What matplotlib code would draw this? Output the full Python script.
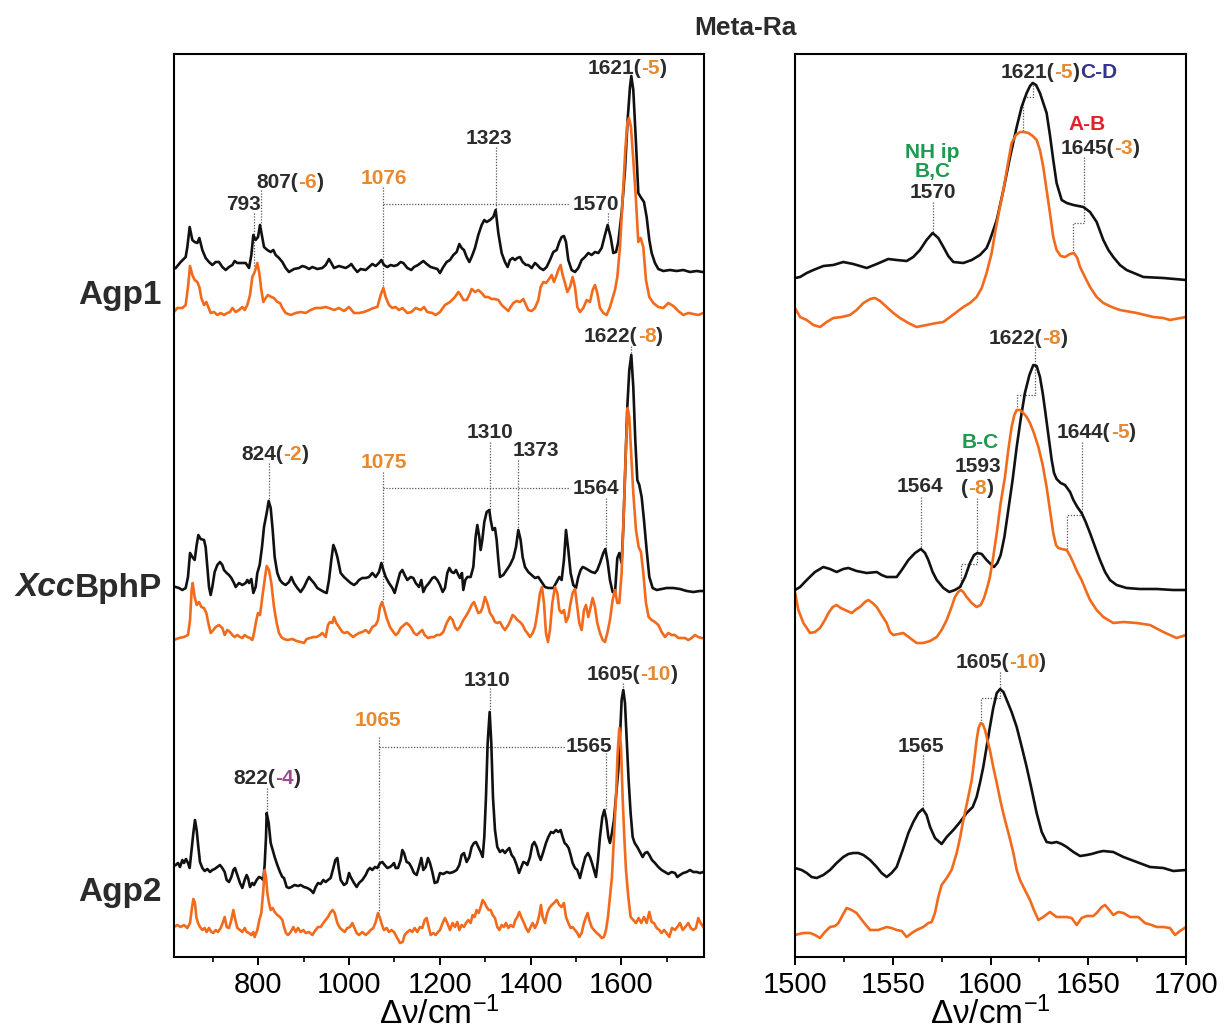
import matplotlib
matplotlib.use("Agg")
import matplotlib.pyplot as plt
from matplotlib.ticker import MultipleLocator
from matplotlib.transforms import offset_copy

plt.rcParams['font.family'] = ['Liberation Sans', 'DejaVu Sans']
plt.rcParams['mathtext.fontset'] = 'custom'
plt.rcParams['mathtext.rm'] = 'Liberation Sans'
plt.rcParams['mathtext.it'] = 'Liberation Sans:italic'

# ---------------- data (wavenumber / arbitrary offset intensity) ----------------
# Full-range panel: Agp1
agp1_h_wn = [618.4,629.4,640.4,644.1,649.2,655.1,660.2,666.1,670.5,677.1,684.4,691.8,699.1,706.5,713.8,721.1,728.5,735.8,743.2,748.3,
             754.2,761.5,772.5,779.9,785.0,789.4,794.5,799.7,804.1,809.2,812.9,820.2,827.6,833.4,838.6,845.9,853.3,860.6,867.9,879.0,
             890.0,897.3,904.6,912.0,919.3,930.3,941.3,948.7,956.0,961.1,967.0,978.0,985.4,992.7,1000.1,1005.2,1011.1,1018.4,1025.7,1036.8,
             1044.1,1051.4,1058.8,1066.1,1071.3,1077.1,1084.5,1091.8,1099.1,1106.5,1113.8,1119.7,1128.5,1137.3,1143.2,1152.0,1163.7,1171.1,1179.9,1187.2,
             1194.6,1200.4,1207.7,1215.1,1222.4,1229.8,1237.1,1243.0,1248.1,1253.2,1259.1,1265.0,1270.1,1277.5,1284.8,1292.2,1298.0,1303.2,1310.5,1317.8,
             1323.0,1328.9,1336.2,1343.5,1349.4,1354.5,1360.4,1365.6,1370.7,1376.6,1382.4,1389.8,1394.9,1402.3,1409.6,1414.7,1420.6,1428.0,1435.3,1442.6,
             1450.0,1457.3,1463.2,1468.3,1473.4,1477.9,1483.0,1490.3,1497.7,1505.0,1512.4,1519.7,1527.0,1534.4,1541.7,1549.1,1556.4,1563.7,1569.6,1576.2,
             1582.1,1588.0,1593.1,1600.4,1607.8,1613.6,1618.8,1621.7,1626.1,1632.0,1637.1,1642.3,1649.6,1655.5,1661.4,1666.5,1673.8,1681.2,1692.2,1706.9,
             1721.5,1736.2,1750.9,1765.6,1778.8]
agp1_h_int = [689,695,700,710,730,717,715,714,719,707,699,695,692,695,695,690,687,690,692,696,
              694,694,694,689,702,722,717,720,732,719,710,707,705,707,702,699,695,689,685,688,
              689,691,690,688,690,688,689,692,698,694,689,691,690,689,691,693,689,685,688,687,
              690,693,691,694,697,692,690,692,691,692,695,694,689,687,690,692,696,693,690,689,
              688,684,690,695,697,702,705,713,709,707,700,695,700,709,722,732,737,735,737,740,
              747,724,704,695,690,697,699,697,699,700,695,692,692,689,694,692,689,687,690,697,
              705,707,715,720,721,715,697,687,685,689,697,700,704,702,705,704,709,722,732,720,
              704,705,715,744,787,837,870,881,867,814,764,760,755,740,717,704,694,688,686,687,
              686,687,685,686,685]
agp1_d_wn = [614.7,622.0,633.1,640.4,645.5,650.0,655.1,660.2,666.1,670.5,674.9,680.8,685.9,690.3,695.4,702.8,710.1,717.5,724.8,732.1,
             738.0,743.2,750.5,757.8,765.2,770.3,776.2,782.1,787.2,792.3,798.2,802.6,807.0,811.4,816.6,821.7,829.0,834.9,842.2,848.1,
             853.3,860.6,871.6,882.6,893.6,904.6,915.6,926.7,937.7,948.7,956.0,967.0,978.0,989.0,1000.1,1011.1,1022.1,1033.1,1044.1,1053.6,
             1062.5,1069.8,1075.7,1080.8,1088.1,1095.5,1102.8,1110.2,1117.5,1128.5,1137.3,1146.9,1157.9,1165.2,1172.5,1183.6,1190.9,1200.4,1211.4,1222.4,
             1233.4,1240.8,1245.9,1251.8,1259.1,1265.0,1270.1,1277.5,1284.8,1292.2,1299.5,1306.8,1314.2,1321.5,1328.9,1336.2,1343.5,1350.9,1356.0,1361.9,
             1369.2,1376.6,1383.9,1389.8,1394.9,1402.3,1409.6,1417.0,1422.1,1428.0,1433.8,1439.0,1446.3,1451.4,1457.3,1461.0,1466.1,1470.5,1475.7,1480.8,
             1486.7,1492.5,1497.7,1502.8,1508.7,1516.0,1523.4,1530.7,1536.6,1541.7,1546.8,1552.7,1560.1,1567.4,1574.7,1580.6,1585.8,1590.9,1596.8,1602.6,
             1608.5,1612.9,1616.6,1621.0,1626.1,1632.0,1637.1,1642.3,1648.1,1654.0,1661.4,1670.2,1681.2,1692.2,1703.2,1714.2,1725.2,1736.2,1747.2,1758.2,
             1769.3,1780.3]
agp1_d_int = [645,649,649,652,670,691,682,677,675,670,659,652,655,650,644,645,642,644,642,644,
              645,649,645,647,650,647,652,662,680,685,694,684,667,655,659,662,660,659,655,654,
              649,644,642,644,645,644,647,649,649,650,649,647,649,646,650,644,644,645,647,649,
              650,662,669,660,652,649,650,647,649,644,645,649,647,650,645,644,642,645,652,655,
              660,665,662,657,657,662,668,665,667,664,660,660,658,658,657,652,649,646,650,654,
              656,655,658,652,647,646,649,657,670,675,674,677,682,675,682,687,692,682,674,665,
              670,680,670,650,645,649,657,655,667,672,664,649,644,642,650,659,667,680,710,757,
              807,834,839,830,797,757,715,719,710,677,660,654,650,649,654,651,646,642,644,643,
              642,644]

# Full-range panel: XccBphP
xcc_h_wn = [618.4,625.7,633.1,640.4,645.5,650.0,655.1,660.2,664.6,668.3,673.4,680.8,684.4,688.1,691.8,695.4,699.1,704.2,710.1,716.0,
            721.1,724.8,730.7,735.8,741.0,746.8,750.5,757.8,765.2,772.5,776.2,779.9,785.0,789.4,794.5,798.2,803.3,808.5,812.9,818.8,
            823.2,827.6,832.0,836.4,842.2,848.1,853.3,860.6,867.9,873.1,878.9,886.3,893.6,901.0,908.3,912.0,917.1,923.0,930.3,937.7,
            945.0,950.9,956.0,961.1,965.6,970.0,974.4,981.7,989.0,996.4,1003.7,1011.1,1016.9,1022.1,1029.4,1036.8,1044.1,1051.4,1058.8,1066.1,
            1071.3,1075.7,1080.8,1088.1,1095.5,1100.6,1106.5,1112.3,1117.5,1122.6,1128.5,1135.8,1141.7,1146.9,1154.2,1159.3,1163.7,1168.9,1176.2,1183.6,
            1188.7,1194.6,1200.4,1206.3,1211.4,1216.5,1221.0,1226.1,1231.2,1235.6,1240.8,1244.4,1248.8,1251.8,1256.2,1260.6,1267.9,1273.8,1278.9,1282.6,
            1287.0,1290.0,1293.6,1298.0,1303.2,1309.0,1312.0,1316.4,1321.5,1325.2,1328.9,1332.5,1339.9,1347.2,1354.5,1361.9,1367.8,1372.9,1378.0,1382.4,
            1387.6,1394.9,1402.3,1409.6,1416.9,1424.3,1431.6,1439.0,1450.0,1457.3,1463.2,1468.3,1473.4,1477.9,1483.0,1488.1,1494.0,1499.9,1505.0,1510.1,
            1514.6,1519.7,1527.0,1534.4,1541.7,1546.8,1552.7,1560.1,1564.5,1569.6,1574.7,1580.6,1585.8,1590.9,1595.3,1600.4,1604.1,1608.5,1612.9,1617.3,
            1621.7,1626.1,1630.5,1634.9,1639.3,1644.5,1649.6,1655.5,1661.4,1668.7,1677.5,1688.5,1699.5,1714.2,1728.9,1743.6,1758.2,1772.9,1780.3]
xcc_h_int = [370,369,367,369,380,404,400,397,412,422,418,417,410,390,370,362,370,385,392,395,
             392,387,384,382,379,374,370,374,372,374,377,374,378,364,370,384,392,410,430,444,
             456,449,427,400,384,377,374,372,375,380,374,369,365,370,377,380,377,374,369,367,
             365,364,377,397,412,407,400,384,380,377,374,372,374,377,379,379,380,384,380,385,
             394,387,380,374,369,364,374,384,387,382,377,380,379,374,370,377,365,370,374,379,
             380,377,372,365,369,384,389,385,384,387,382,379,384,367,377,380,380,390,420,432,
             420,407,417,435,445,447,437,427,429,417,397,380,382,387,392,399,410,427,417,400,
             390,385,382,379,380,375,370,369,369,375,380,377,397,427,407,384,372,369,380,387,
             390,389,387,385,384,387,394,404,408,395,377,365,364,399,404,394,430,490,550,587,
             602,570,517,477,472,460,437,407,380,369,367,368,369,369,368,366,365,366,366]
xcc_d_wn = [614.7,625.7,636.7,645.5,650.0,653.6,655.8,660.2,664.6,669.8,674.9,680.8,685.9,690.3,695.4,701.3,706.5,713.8,721.1,726.3,
            732.1,738.0,743.2,748.3,754.2,760.0,765.2,770.3,776.2,782.1,787.2,790.9,796.0,799.7,804.1,809.2,814.3,818.8,823.9,829.0,
            834.9,840.8,845.9,851.0,856.9,864.3,875.3,884.8,893.6,901.0,906.8,914.2,921.5,928.9,936.2,941.3,948.7,953.8,958.2,963.4,
            967.0,972.2,978.0,985.4,990.5,996.4,1003.7,1009.6,1014.7,1022.1,1029.4,1036.8,1044.1,1051.4,1058.8,1063.9,1068.3,1072.7,1077.1,1083.0,
            1090.3,1097.7,1102.8,1108.0,1113.8,1121.2,1127.0,1132.2,1137.3,1143.2,1149.1,1156.4,1161.5,1166.7,1174.0,1181.3,1187.2,1193.1,1200.4,1207.7,
            1215.1,1222.4,1228.3,1233.4,1238.6,1244.4,1251.8,1259.1,1265.0,1270.1,1275.3,1279.7,1284.8,1290.0,1294.4,1299.5,1304.6,1310.5,1316.4,1321.5,
            1326.6,1332.5,1338.4,1343.5,1350.9,1356.0,1360.4,1365.6,1370.7,1376.6,1382.4,1387.6,1392.7,1398.6,1404.5,1409.6,1414.7,1420.6,1425.0,1429.4,
            1433.8,1438.2,1442.6,1447.8,1453.6,1458.8,1463.2,1468.3,1473.4,1477.9,1483.0,1488.1,1492.5,1497.7,1502.8,1507.2,1512.4,1517.5,1521.9,1527.0,
            1532.2,1536.6,1541.7,1546.8,1552.7,1558.6,1563.7,1568.9,1574.7,1580.6,1585.8,1590.9,1595.3,1600.4,1605.6,1610.0,1613.6,1617.3,1621.0,1626.1,
            1632.0,1637.9,1643.0,1648.1,1654.0,1659.9,1666.5,1673.8,1681.2,1688.5,1695.9,1703.2,1710.5,1717.9,1725.2,1732.6,1739.9,1747.2,1754.6,1761.9,
            1769.2,1776.6,1780.0]
xcc_d_int = [317,319,320,322,337,367,374,360,352,355,350,349,344,334,324,327,330,332,329,322,
             327,325,322,320,322,320,319,322,320,319,317,324,337,344,342,360,377,391,387,374,
             350,334,324,320,318,317,318,316,315,314,318,319,320,320,322,324,320,332,335,334,
             340,334,330,325,324,325,322,320,322,324,325,327,324,330,332,337,350,355,349,339,
             330,325,322,324,329,332,334,332,329,324,322,325,327,322,319,320,320,322,322,325,
             334,340,337,330,327,330,337,342,347,352,355,350,344,345,350,360,354,344,340,
             335,334,335,330,327,332,337,342,340,337,335,332,327,324,320,324,330,344,364,370,
             354,324,315,327,354,370,364,347,344,347,335,340,354,364,368,350,334,327,347,352,
             340,350,359,350,334,324,317,315,324,337,357,367,354,354,384,450,510,549,540,507,
             464,427,410,405,384,354,340,337,335,332,325,320,324,322,322,319,319,319,317,319,
             322,320,319]

# Full-range panel: Agp2
agp2_h_wn = [618.4,623.5,627.9,633.1,636.7,641.1,645.5,649.2,652.9,657.3,660.9,664.6,668.3,671.9,677.1,682.2,688.1,694.0,699.1,704.2,
             710.1,716.0,721.1,726.3,730.7,735.8,741.0,745.4,749.0,754.2,760.0,765.2,770.3,774.7,777.7,782.1,787.2,790.9,796.7,801.9,
             807.0,811.4,814.3,817.3,818.8,823.2,827.6,832.0,836.4,842.2,848.1,853.3,856.9,862.8,867.9,873.1,880.4,887.7,893.6,901.0,
             908.3,915.6,921.5,926.7,931.8,937.7,943.5,948.7,953.8,959.7,965.6,970.0,974.4,978.0,981.7,989.0,994.9,1000.1,1003.7,1011.1,
             1016.9,1022.1,1029.4,1036.8,1041.9,1046.3,1051.4,1057.3,1062.5,1068.3,1073.5,1078.6,1084.5,1090.3,1095.5,1099.1,1102.8,1108.0,1113.8,1117.5,
             1121.2,1127.0,1132.2,1137.3,1143.2,1149.1,1154.2,1159.3,1163.7,1168.9,1174.0,1178.4,1183.6,1188.7,1194.6,1200.4,
             1207.7,1215.1,1222.4,1229.8,1237.1,1243.0,1248.1,1253.2,1259.1,1265.0,1270.1,1275.3,1279.7,1284.8,1290.0,1294.4,1298.0,1301.7,1305.4,1309.8,
             1313.4,1317.1,1321.5,1326.6,1332.5,1338.4,1343.5,1348.7,1353.1,1358.2,1363.3,1369.2,1374.4,1378.8,1383.9,1389.0,1392.7,1398.6,1403.7,1408.1,
             1413.3,1417.7,1422.1,1427.9,1433.8,1439.0,1444.8,1450.0,1455.8,1461.0,1466.1,1470.5,1474.9,1479.3,1483.7,1488.1,1492.5,1497.7,1502.8,1508.7,
             1514.6,1520.4,1526.3,1530.7,1535.1,1539.5,1543.9,1548.3,1552.7,1557.9,1562.3,1566.7,1571.1,1574.7,1579.1,1583.5,1588.0,1593.1,1597.5,1600.4,
             1604.1,1607.8,1611.4,1615.8,1620.2,1624.7,1629.1,1634.9,1640.8,1646.7,1651.8,1656.9,1661.4,1667.2,1673.8,1681.2,1688.5,1695.9,1703.2,1710.5,
             1717.9,1723.0,1728.9,1736.2,1743.6,1750.9,1758.2,1765.6,1772.9,1780.3]
agp2_h_int = [92,94,90,97,94,98,94,89,105,124,137,127,110,95,89,86,88,85,87,88,
              90,92,89,85,77,75,80,87,89,82,74,69,77,82,79,70,74,72,77,80,
              79,77,92,120,144,134,114,107,100,92,85,80,79,70,69,70,72,71,72,70,
              69,67,64,70,74,73,77,75,77,79,89,97,99,87,77,72,74,84,80,74,
              70,74,77,82,87,89,87,90,89,94,95,92,89,90,92,94,89,89,97,107,
              104,95,94,90,84,82,90,99,87,90,99,94,85,74,75,84,
              83,85,84,85,87,92,102,104,95,100,110,114,115,110,105,100,120,160,214,245,
              214,160,127,110,105,107,104,107,109,102,99,92,84,89,95,94,92,100,112,115,
              110,102,97,105,114,120,125,124,127,125,127,120,114,112,109,102,94,89,87,79,
              90,100,104,100,94,87,80,97,120,140,147,137,120,114,124,137,160,187,227,257,
              267,254,220,177,144,120,114,110,105,100,104,105,102,97,94,90,87,85,83,85,
              84,80,82,84,85,87,85,85,84,85]
agp2_d_wn = [614.7,622.0,629.4,636.7,644.1,650.0,653.6,657.3,660.9,663.9,667.5,672.0,677.1,682.2,686.6,691.8,696.9,701.3,706.5,711.6,
             717.5,721.9,726.3,730.7,735.8,741.0,745.4,749.8,754.2,760.0,765.2,770.3,774.7,779.9,785.0,789.4,792.3,798.2,802.6,807.0,
             811.4,814.3,817.3,820.2,823.9,827.6,832.0,836.4,842.2,848.1,853.3,856.9,861.3,865.7,871.6,877.5,882.6,887.7,893.6,899.5,
             904.6,912.0,919.3,926.7,931.8,937.7,943.5,948.7,953.8,959.7,964.1,968.5,974.4,980.2,985.4,990.5,996.4,1002.3,1007.4,1011.1,
             1016.9,1022.1,1029.4,1036.8,1041.9,1047.8,1053.6,1058.8,1063.9,1068.3,1072.7,1077.1,1083.0,1088.1,1093.3,1099.1,1105.0,1112.3,1118.2,1122.6,
             1128.5,1134.4,1139.5,1144.6,1150.5,1156.4,1161.5,1166.7,1171.1,1175.5,1179.9,1185.8,1190.9,1196.0,1200.4,
             1206.3,1211.4,1216.5,1222.4,1228.3,1233.4,1238.6,1243.0,1248.1,1253.2,1257.7,1262.8,1267.9,1272.3,1276.7,1281.1,1285.5,1290.0,1294.4,1298.8,
             1303.2,1307.6,1312.0,1316.4,1321.5,1326.6,1331.1,1336.2,1341.3,1345.7,1350.9,1356.0,1361.9,1366.3,1370.7,1375.1,1380.2,1385.4,1389.8,1394.9,
             1400.0,1404.5,1409.6,1414.7,1419.1,1422.8,1426.5,1431.6,1436.7,1441.2,1446.3,1451.4,1457.3,1463.2,1468.3,1473.4,1477.9,1483.0,1488.1,1492.5,
             1497.7,1502.8,1507.2,1512.4,1517.5,1521.9,1525.6,1529.2,1534.4,1539.5,1545.4,1551.3,1556.4,1561.5,1566.0,1570.3,1574.7,1579.1,1583.5,1588.0,
             1591.6,1595.3,1599.0,1602.6,1606.3,1610.0,1615.1,1620.2,1626.1,1632.0,1637.9,1643.7,1649.6,1655.5,1661.4,1666.5,1671.6,1677.5,1683.4,1688.5,
             1693.6,1699.5,1705.4,1711.3,1717.9,1723.0,1728.9,1734.8,1740.6,1747.2,1752.4,1758.2,1764.1,1769.2,1774.3,1780.3]
agp2_d_int = [30,32,30,32,29,34,47,58,54,40,34,30,27,29,25,29,25,24,27,25,
              29,34,40,30,29,37,47,37,29,27,25,29,25,24,22,25,20,27,37,44,
              67,87,80,64,54,47,49,45,42,40,37,30,24,22,25,30,25,29,25,27,
              24,25,22,27,30,30,34,37,40,45,47,44,34,29,27,25,29,30,34,30,
              24,22,25,22,24,27,29,35,44,39,32,27,29,25,27,25,20,14,15,22,
              25,27,25,29,25,30,29,37,39,30,22,24,22,25,27,
              34,39,34,27,34,30,35,27,32,30,34,37,34,42,40,47,44,50,57,54,
              50,47,47,42,39,30,27,32,30,34,29,32,30,37,40,45,39,34,29,25,
              30,34,29,34,42,52,40,34,44,49,52,54,57,52,50,54,40,34,29,30,
              27,24,20,24,34,40,44,37,30,27,24,22,19,20,27,40,60,80,120,160,
              204,229,210,160,120,87,60,40,37,34,39,34,40,34,45,35,34,29,27,24,
              27,24,20,29,27,30,34,27,30,34,29,27,29,39,34,30]

# Zoomed panel (1500-1700)
agp1_h_zwn = [1500,1502.6,1506.0,1509.4,1514.5,1519.6,1524.7,1529.8,1536.7,1541.8,1547.7,1552.0,1557.1,1560.5,1563.9,
              1567.3,1570.4,1573.3,1575.9,1578.4,1581.0,1586.1,1590.4,1594.6,1598.0,1599.7,1603.2,1606.6,1610.0,1613.4,
              1615.9,1618.5,1620.2,1621.6,1623.3,1625.3,1627.0,1628.7,1630.4,1632.1,1633.8,1636.4,1639.0,1642.4,1647.5,
              1650.9,1654.3,1657.7,1660.3,1662.8,1666.2,1669.6,1678.2,1688.4,1700]
agp1_h_zint = [679,680,684,687,691,692,695,693,689,693,698,697,696,700,707,
               717,724,719,710,701,695,694,697,702,709,717,737,767,800,830,
               850,864,871,874,872,864,854,844,822,797,774,757,754,752,750,
               745,735,717,707,700,692,687,680,679,677]
agp1_d_zwn = [1500,1502.6,1506.0,1509.4,1512.8,1516.2,1519.6,1523.9,1528.1,1531.5,1535.0,1538.4,1540.9,1543.5,1546.9,
              1550.3,1553.7,1558.0,1562.2,1567.3,1572.5,1575.9,1579.3,1582.7,1586.1,1589.5,1592.9,1595.5,1598.0,1600.6,
              1602.3,1604.5,1606.6,1608.6,1610.8,1613.0,1615.1,1617.1,1619.4,1621.6,1623.6,1625.3,1627.0,1628.7,1630.4,
              1632.1,1633.8,1635.9,1638.1,1640.7,1642.7,1644.4,1645.8,1648.3,1650.9,1654.3,1657.7,1662.0,1666.2,1674.8,
              1683.3,1688.4,1691.8,1700]
agp1_d_zint = [649,640,637,632,630,635,639,640,642,647,654,658,659,656,650,
               644,639,634,630,632,634,635,640,645,650,654,660,669,684,704,
               724,747,767,790,814,822,825,825,824,821,817,807,790,767,744,
               720,707,701,700,703,704,699,690,680,670,660,654,650,647,644,
               640,639,637,640]
xcc_h_zwn = [1500,1502.6,1506.0,1510.2,1514.5,1517.9,1521.3,1524.7,1527.3,1531.5,1536.7,1541.8,1544.3,1546.9,1552.0,
             1554.6,1558.0,1561.4,1564.4,1566.5,1568.2,1570.4,1572.5,1575.9,1578.9,1581.8,1584.4,1587.0,1589.5,1591.6,
             1593.3,1595.5,1598.0,1600.6,1601.8,1603.5,1605.2,1607.1,1609.1,1611.3,1613.4,1615.6,1617.6,1619.9,1621.9,
             1623.6,1625.3,1626.7,1627.9,1629.6,1631.3,1632.5,1633.8,1635.9,1638.1,1640.7,1642.4,1644.4,1646.6,1648.7,
             1650.9,1653.5,1656.0,1658.6,1661.1,1664.5,1669.6,1676.5,1685.0,1693.5,1700]
xcc_h_zint = [367,370,377,385,390,388,385,388,389,386,384,385,382,380,380,
              387,397,404,408,404,397,385,377,369,365,367,370,380,394,402,
              404,403,397,392,390,394,402,420,447,477,510,540,564,582,592,
              591,580,564,547,522,497,484,478,474,472,465,457,450,444,435,
              424,410,397,385,377,372,369,368,368,367,367]
xcc_d_zwn = [1500,1501.7,1504.3,1507.7,1510.2,1512.8,1515.3,1517.1,1519.3,1521.3,1523.4,1525.6,1529.0,1531.5,1533.2,
             1535.8,1537.5,1539.7,1541.8,1544.3,1546.9,1548.6,1550.3,1552.9,1555.4,1558.8,1562.2,1565.6,1569.1,1572.5,
             1575.0,1577.6,1580.1,1581.8,1583.5,1584.7,1586.1,1587.8,1590.4,1592.9,1595.0,1596.7,1598.4,1599.7,1601.4,
             1603.2,1605.2,1607.4,1609.1,1610.8,1612.2,1613.4,1615.1,1616.8,1618.5,1620.2,1622.2,1624.5,1626.7,1628.7,
             1630.4,1632.1,1633.5,1634.7,1636.4,1639.0,1641.0,1642.4,1644.4,1646.6,1648.7,1650.9,1654.3,1657.7,1662.8,
             1668.0,1674.8,1681.6,1688.4,1695.2,1700]
xcc_d_zint = [365,347,334,324,325,329,337,344,350,352,349,347,344,348,350,
              355,357,354,350,342,334,325,322,323,324,319,314,314,316,320,
              327,337,350,360,365,367,365,360,354,350,352,359,370,380,400,
              424,454,480,507,530,542,547,547,544,540,534,524,510,492,470,
              447,424,412,409,408,407,400,394,385,377,367,357,347,340,334,
              335,334,332,325,319,322]
agp2_h_zwn = [1500,1503.4,1506.0,1508.5,1511.1,1514.5,1517.9,1521.3,1524.7,1527.3,1529.8,1532.4,1535.0,1538.4,1541.8,
              1544.3,1546.9,1549.4,1552.0,1555.1,1558.0,1560.5,1563.1,1565.3,1567.3,1569.1,1571.6,1575.0,1577.6,1581.0,
              1584.4,1587.8,1590.9,1592.9,1594.6,1596.3,1598.0,1599.7,1601.4,1603.2,1604.9,1606.6,1608.3,1610.8,1613.4,
              1616.0,1618.5,1621.1,1623.6,1626.2,1628.7,1631.3,1633.8,1636.4,1639.0,1642.4,1645.8,1649.2,1651.7,1655.2,
              1657.7,1662.8,1668.0,1674.8,1681.6,1688.4,1693.5,1700]
agp2_h_zint = [89,87,84,80,79,82,87,94,100,103,104,104,102,97,90,
               84,80,84,90,107,124,135,144,148,142,130,119,113,120,127,
               135,144,150,160,174,190,210,230,249,264,268,265,257,245,230,
               210,190,167,144,125,115,114,115,113,110,105,101,102,103,105,
               106,105,100,95,90,89,86,87]
agp2_d_zwn = [1500,1504.3,1507.7,1510.2,1512.8,1515.3,1517.9,1520.5,1522.2,1524.4,1526.4,1529.0,1531.5,1535.0,1538.4,
              1542.6,1546.9,1549.4,1552.0,1554.6,1557.1,1559.7,1562.2,1565.6,1568.2,1569.9,1571.6,1573.3,1575.0,1577.6,
              1580.1,1582.7,1584.4,1586.1,1588.3,1590.4,1591.7,1592.9,1593.9,1595.0,1596.0,1597.2,1598.4,1599.7,1601.4,
              1603.2,1605.2,1607.4,1609.7,1611.7,1613.4,1615.1,1617.6,1620.2,1622.2,1624.5,1627.0,1630.4,1633.8,1639.0,
              1641.5,1644.1,1646.6,1649.2,1652.6,1654.3,1656.9,1658.6,1660.8,1662.8,1665.4,1668.0,1671.4,1675.6,1677.3,
              1679.0,1682.4,1685.0,1688.4,1691.8,1694.4,1696.9,1700]
agp2_d_zint = [22,24,24,22,19,25,30,31,34,42,49,47,44,35,27,
               27,30,29,27,26,20,24,27,30,34,35,44,60,72,79,
               87,104,119,137,157,177,197,217,229,234,233,227,217,207,190,
               174,155,137,120,104,87,77,67,57,47,37,40,45,40,40,
               39,32,39,41,41,44,50,52,47,42,45,44,40,40,37,
               34,32,30,30,29,22,26,30]

sample_labels = ["Agp1", "BphP", "Agp2"]
left_ticks = [800, 1000, 1200, 1400, 1600]
right_ticks = [1500, 1550, 1600, 1650, 1700]

# ---------------- style ----------------
BLACK = '#111111'
ORANGE = '#f26a1b'
TXT = '#2b2b2b'
TORANGE = '#e8892e'
GREEN = '#1e9a4f'
RED = '#e2222b'
NAVY = '#34348a'
PURPLE = '#9c4d8c'
LEAD = '#555555'

fig = plt.figure(figsize=(12.26, 10.32), dpi=100)
axL = fig.add_axes([174/1226, 1-957/1032, (704-174)/1226, (957-54)/1032])
axR = fig.add_axes([795/1226, 1-957/1032, (1186-795)/1226, (957-54)/1032])

lw = 1.9
for wn, it, col in [(agp1_h_wn, agp1_h_int, BLACK), (agp1_d_wn, agp1_d_int, ORANGE),
                    (xcc_h_wn, xcc_h_int, BLACK), (xcc_d_wn, xcc_d_int, ORANGE),
                    (agp2_h_wn, agp2_h_int, BLACK), (agp2_d_wn, agp2_d_int, ORANGE)]:
    n = min(len(wn), len(it))
    axL.plot(wn[:n], it[:n], color=col, lw=lw, solid_joinstyle='round')
for wn, it, col in [(agp1_h_zwn, agp1_h_zint, BLACK), (agp1_d_zwn, agp1_d_zint, ORANGE),
                    (xcc_h_zwn, xcc_h_zint, BLACK), (xcc_d_zwn, xcc_d_zint, ORANGE),
                    (agp2_h_zwn, agp2_h_zint, BLACK), (agp2_d_zwn, agp2_d_zint, ORANGE)]:
    n = min(len(wn), len(it))
    axR.plot(wn[:n], it[:n], color=col, lw=lw, solid_joinstyle='round')

axL.set_xlim(614.7, 1781.8)
axR.set_xlim(1500, 1700)
for ax in (axL, axR):
    ax.set_ylim(0, 903)
    ax.set_yticks([])
    for s in ax.spines.values():
        s.set_linewidth(1.5)
    ax.tick_params(axis='x', which='major', direction='out', length=6, width=1.4,
                   labelsize=21, pad=4, top=False)
    ax.tick_params(axis='x', which='minor', direction='out', length=3.5, width=1.2, top=False)
    ax.set_xlabel(r"Δν/cm$^{-1}$", fontsize=24, labelpad=-2)
axL.set_xticks(left_ticks)
axL.xaxis.set_minor_locator(MultipleLocator(100))
axR.set_xticks(right_ticks)
axR.xaxis.set_minor_locator(MultipleLocator(25))

# ---------------- annotation helpers ----------------
renderer = fig.canvas.get_renderer()


def rich(base, x, y, parts, size=15, ha='center', weight='bold'):
    widths = []
    for s, c, st in parts:
        t = fig.text(0, 0, s, fontsize=size, fontweight=weight, fontstyle=st)
        widths.append(t.get_window_extent(renderer).width)
        t.remove()
    total = sum(widths)
    start = {'center': -total / 2, 'right': -total, 'left': 0}[ha]
    for (s, c, st), w in zip(parts, widths):
        tr = offset_copy(base, fig=fig, x=start * 72 / fig.dpi, y=0, units='points')
        fig.text(x, y, s, color=c, fontsize=size, fontweight=weight, fontstyle=st,
                 ha='left', va='center', transform=tr)
        start += w


def lab(ax, x, y, parts):
    rich(ax.transData, x, y, [(s, c, 'normal') for s, c in parts])


def lead(ax, pts):
    xs, ys = zip(*pts)
    ax.plot(xs, ys, color=LEAD, lw=0.9, ls=(0, (1, 1.3)), zorder=1)


# Left panel labels
left_labels = [
    (1613, 888, [("1621(", TXT), ("-5", TORANGE), (")", TXT)]),
    (1308, 818, [("1323", TXT)]),
    (870, 775, [("807(", TXT), ("-6", TORANGE), (")", TXT)]),
    (768, 753, [("793", TXT)]),
    (1076, 778, [("1076", TORANGE)]),
    (1543, 752, [("1570", TXT)]),
    (1605, 620, [("1622(", TXT), ("-8", TORANGE), (")", TXT)]),
    (838, 502, [("824(", TXT), ("-2", TORANGE), (")", TXT)]),
    (1076, 494, [("1075", TORANGE)]),
    (1311, 524, [("1310", TXT)]),
    (1412, 507, [("1373", TXT)]),
    (1543, 469, [("1564", TXT)]),
    (1624, 282, [("1605(", TXT), ("-10", TORANGE), (")", TXT)]),
    (1305, 277, [("1310", TXT)]),
    (1063, 236, [("1065", TORANGE)]),
    (1528, 211, [("1565", TXT)]),
    (820, 178, [("822(", TXT), ("-4", PURPLE), (")", TXT)]),
]
for x, y, p in left_labels:
    lab(axL, x, y, p)

left_leads = [
    [(791, 744), (791, 690)], [(805.5, 767), (805.5, 732)],
    [(1076, 770), (1076, 669)], [(1076, 753), (1485, 753)],
    [(1323, 810), (1323, 747)], [(1570, 744), (1570, 732)],
    [(1621, 611), (1621, 602)], [(823, 494), (823, 457)],
    [(1075, 485), (1075, 355)], [(1075, 469), (1487, 469)],
    [(1310, 515), (1310, 447)], [(1373, 497), (1373, 427)],
    [(1565, 459), (1565, 408)],
    [(1604, 274), (1604, 269)], [(1310, 269), (1310, 245)],
    [(1066, 220), (1066, 44)], [(1066, 210), (1475, 210)],
    [(1565, 204), (1565, 147)], [(819, 169), (819, 144)],
]
for p in left_leads:
    lead(axL, p)

right_labels = [
    (1634.9, 884, [("1621(", TXT), ("-5", TORANGE), (")", TXT), ("C-D", NAVY)]),
    (1649.5, 832, [("A-B", RED)]),
    (1656.3, 809, [("1645(", TXT), ("-3", TORANGE), (")", TXT)]),
    (1570.4, 805, [("NH ip", GREEN)]),
    (1570.4, 786, [("B,C", GREEN)]),
    (1570.4, 765, [("1570", TXT)]),
    (1619.2, 619, [("1622(", TXT), ("-8", TORANGE), (")", TXT)]),
    (1654.3, 524, [("1644(", TXT), ("-5", TORANGE), (")", TXT)]),
    (1594.6, 514, [("B-C", GREEN)]),
    (1593.8, 491, [("1593", TXT)]),
    (1593.3, 469, [("(", TXT), ("-8", TORANGE), (")", TXT)]),
    (1563.8, 470, [("1564", TXT)]),
    (1605.2, 294, [("1605(", TXT), ("-10", TORANGE), (")", TXT)]),
    (1564.3, 211, [("1565", TXT)]),
]
for x, y, p in right_labels:
    lab(axR, x, y, p)

right_leads = [
    [(1621.6, 872), (1621.6, 860), (1616.8, 860), (1616.8, 825)],
    [(1647.8, 800), (1647.8, 734), (1642, 734), (1642, 705)],
    [(1570.4, 755), (1570.4, 724)],
    [(1622.8, 611), (1622.8, 562), (1613.4, 562), (1613.4, 547)],
    [(1646.6, 515), (1646.6, 442), (1639, 442), (1639, 407)],
    [(1593.3, 459), (1593.3, 393), (1585, 393), (1585, 367)],
    [(1564.4, 460), (1564.4, 409)],
    [(1604.9, 285), (1604.9, 259), (1595, 259), (1595, 234)],
    [(1565.3, 202), (1565.3, 149)],
]
for p in right_leads:
    lead(axR, p)

# Sample names and title
fig.text(162/1226, 1-295/1032, sample_labels[0], fontsize=24, fontweight='bold', color=TXT,
         ha='right', va='center')
rich(fig.transFigure, 162/1226, 1-588/1032, [("Xcc", TXT, 'italic'), (sample_labels[1], TXT, 'normal')],
     size=24, ha='right')
fig.text(162/1226, 1-893/1032, sample_labels[2], fontsize=24, fontweight='bold', color=TXT,
         ha='right', va='center')
fig.text(745/1226, 1-28/1032, "Meta-Ra", fontsize=19, fontweight='bold', color=TXT,
         ha='center', va='center')

fig.savefig("out.png", dpi=100)
